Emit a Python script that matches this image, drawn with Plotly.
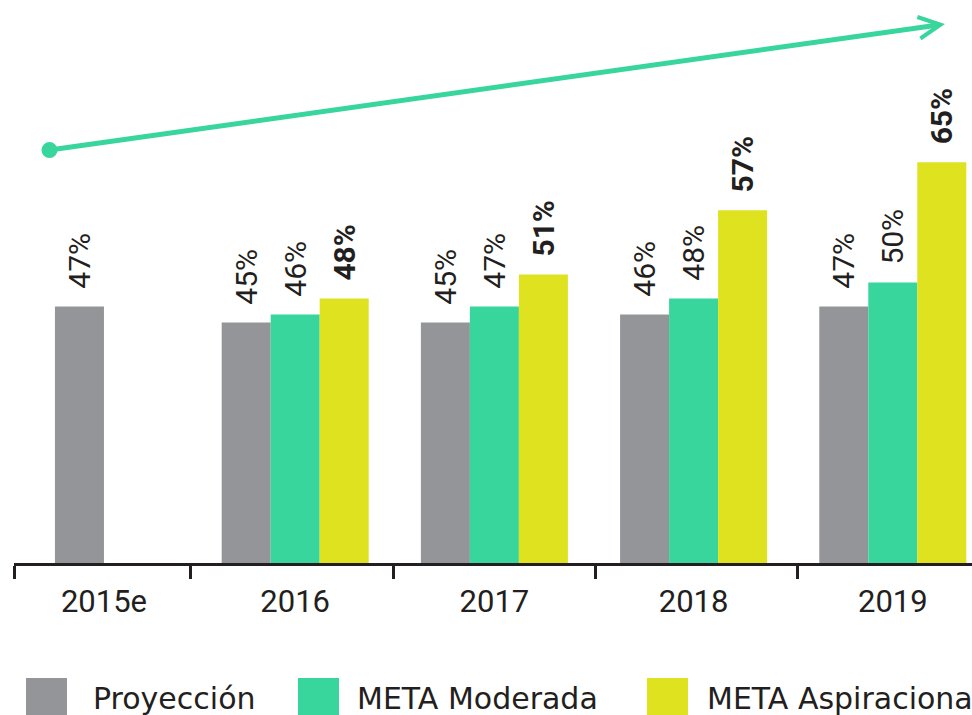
import plotly.graph_objects as go

# ---------------- data ----------------
categories = ["2015e", "2016", "2017", "2018", "2019"]
proyeccion = [47, 45, 45, 46, 47]
proyeccion_labels = ["47%", "45%", "45%", "46%", "47%"]
meta_years = ["2016", "2017", "2018", "2019"]
moderada = [46, 47, 48, 50]
moderada_labels = ["46%", "47%", "48%", "50%"]
aspiracional = [48, 51, 59, 65]          # drawn bar heights
aspiracional_labels = ["48%", "51%", "57%", "65%"]
legend_names = ["Proyección", "META Moderada", "META Aspiracional"]
trend_start = (-0.241, 66.5)   # decorative trend arrow (axis units)
trend_end = (4.262, 82.25)

# ---------------- style ----------------
GRAY = "#939598"
GREEN = "#38d69c"
YELLOW = "#dfe21e"
INK = "#231f20"
PAD = "\u00a0\u00a0"

W, H = 972, 715
ML, MR, MT, MB = 14, 0, 10, 152
PW, PH = W - ML - MR, H - MT - MB

def px_x(px):
    return (px - ML) / PW

def px_y(py):
    return (H - MB - py) / PH

cat_x = {c: i for i, c in enumerate(categories)}
bar_w = 0.246

fig = go.Figure()
fig.add_trace(go.Bar(
    x=[cat_x[c] for c in categories], y=proyeccion,
    width=bar_w, offset=[-0.206] + [-0.369] * (len(categories) - 1),
    marker=dict(color=GRAY, line=dict(width=0)),
    text=[PAD + t for t in proyeccion_labels], textposition="outside",
    textangle=-90, constraintext="none", cliponaxis=False,
    textfont=dict(family="Roboto", size=30, color=INK),
    name=legend_names[0], hoverinfo="skip"))
fig.add_trace(go.Bar(
    x=[cat_x[c] for c in meta_years], y=moderada,
    width=bar_w, offset=-0.123,
    marker=dict(color=GREEN, line=dict(width=0)),
    text=[PAD + t for t in moderada_labels], textposition="outside",
    textangle=-90, constraintext="none", cliponaxis=False,
    textfont=dict(family="Roboto", size=30, color=INK),
    name=legend_names[1], hoverinfo="skip"))
fig.add_trace(go.Bar(
    x=[cat_x[c] for c in meta_years], y=aspiracional,
    width=bar_w, offset=0.123,
    marker=dict(color=YELLOW, line=dict(width=0)),
    text=[PAD + t for t in aspiracional_labels], textposition="outside",
    textangle=-90, constraintext="none", cliponaxis=False,
    textfont=dict(family="Roboto", size=30, color=INK, weight="bold"),
    name=legend_names[2], hoverinfo="skip"))

annotations = [dict(
    x=trend_end[0], y=trend_end[1], xref="x", yref="y",
    ax=trend_start[0], ay=trend_start[1], axref="x", ayref="y",
    text="", showarrow=True, arrowhead=5, arrowsize=0.85, arrowwidth=5,
    arrowcolor=GREEN, arrowside="end+start", startarrowhead=6,
    startarrowsize=0.8)]

shapes = []
legend_items = [(GRAY, 26, 91), (GREEN, 298, 355), (YELLOW, 647, 705)]
for (col, sq_x, tx), name in zip(legend_items, legend_names):
    shapes.append(dict(type="rect", xref="paper", yref="paper",
                       x0=px_x(sq_x), x1=px_x(sq_x + 41),
                       y0=px_y(719), y1=px_y(678),
                       fillcolor=col, line=dict(width=0), layer="above"))
    annotations.append(dict(x=px_x(tx), y=px_y(698), xref="paper", yref="paper",
                            text=name, showarrow=False, xanchor="left",
                            yanchor="middle",
                            font=dict(family="DejaVu Sans", size=30, color=INK)))

fig.update_layout(
    width=W, height=H,
    margin=dict(l=ML, r=MR, t=MT, b=MB, pad=0),
    paper_bgcolor="white", plot_bgcolor="white",
    showlegend=False, barmode="overlay",
    xaxis=dict(range=[-0.4116, 4.3976], tickmode="array",
               tickvals=[0.04, 1, 2, 3, 4], ticktext=categories,
               ticks="", showgrid=False, zeroline=False,
               showline=True, linecolor=INK, linewidth=3,
               tickfont=dict(family="Roboto", size=31, color=INK),
               ticklabelstandoff=9,
               minor=dict(tickmode="array",
                          tickvals=[-0.408, 0.472, 1.491, 2.510, 3.524],
                          ticks="outside", ticklen=13, tickwidth=3,
                          tickcolor=INK, showgrid=False)),
    yaxis=dict(range=[15, 84], visible=False, showgrid=False, zeroline=False),
    annotations=annotations, shapes=shapes)

fig.write_html("out.html", config={"displayModeBar": False},
               post_script="document.body.style.margin='0';document.body.style.overflow='hidden';")
